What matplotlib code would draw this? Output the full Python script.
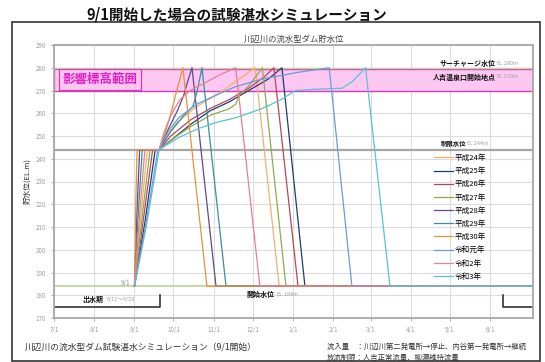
import matplotlib
matplotlib.use("Agg")
import matplotlib.pyplot as plt
from matplotlib.patches import Rectangle
import datetime as dt

JP = ["Noto Sans CJK JP", "DejaVu Sans"]
plt.rcParams["font.family"] = JP

# ---- data: x is days counted from 7/1, y is reservoir level (EL.m) ----
start = dt.date(2023, 7, 1)
month_dates = [dt.date(2023, m, 1) for m in range(7, 13)] + [dt.date(2024, m, 1) for m in range(1, 7)]
month_labels = ["7/1", "8/1", "9/1", "10/1", "11/1", "12/1", "1/1", "2/1", "3/1", "4/1", "5/1", "6/1"]
x_end = 369

series_names = ["平成24年", "平成25年", "平成26年", "平成27年", "平成28年",
                "平成29年", "平成30年", "令和元年", "令和2年", "令和3年"]
series_colors = ["#f5b06a", "#1f3c6e", "#b8465a", "#8faa4c", "#5e4a8a",
                 "#3a8fa0", "#e8923a", "#6a9bd8", "#e8808e", "#5bc0d8"]

h24_days = [62, 67, 72, 81, 87, 95, 110, 125, 140, 155, 173.5, 369]
h24_lv = [184, 216, 244, 244, 250, 256, 263, 268, 274, 280, 184, 184]
h25_days = [62, 70, 78, 81, 92, 105, 120, 135, 150, 165, 175.6, 193.3, 369]
h25_lv = [184, 212, 244, 244, 249, 255, 261, 265, 270, 275, 280, 184, 184]
h26_days = [62, 69, 76, 81, 90, 105, 120, 135, 150, 162, 169.4, 188, 369]
h26_lv = [184, 214, 244, 244, 250, 257, 262, 266, 271, 276, 280, 184, 184]
h27_days = [62, 68, 74, 81, 92, 105, 120, 135, 140, 143, 150, 160.5, 178.7, 369]
h27_lv = [184, 215, 244, 244, 249, 254, 259, 262, 264, 268, 272, 280, 184, 184]
h28_days = [62, 64, 66, 81, 88, 95, 100, 103, 106.3, 124.8, 369]
h28_lv = [184, 218, 244, 244, 253, 261, 268, 274, 280, 184, 184]
h29_days = [62, 65, 68, 81, 90, 100, 107, 110, 114, 132.5, 369]
h29_lv = [184, 217, 244, 244, 252, 259, 263, 269, 280, 184, 184]
h30_days = [62, 63, 64, 81, 86, 91, 95, 99.3, 117.8, 369]
h30_lv = [184, 220, 244, 244, 252, 262, 271, 280, 184, 184]
r1_days = [62, 71, 80, 81, 88, 96, 110, 125, 139, 160, 188, 212, 229.5, 369]
r1_lv = [184, 212, 244, 244, 252, 258, 264, 268, 271.5, 275, 278, 280, 184, 184]
r2_days = [62, 66, 70, 81, 85, 90, 97, 105, 115, 128, 140, 158.6, 369]
r2_lv = [184, 216, 244, 244, 252, 259, 266, 270, 273, 277, 280, 184, 184]
r3_days = [62, 71, 81, 95, 110, 125, 140, 160, 175, 186, 200, 222, 230, 240, 258.8, 369]
r3_lv = [184, 210, 244, 249, 253, 256, 258, 262, 266, 270, 270.5, 271, 274, 280, 184, 184]

series_days = [h24_days, h25_days, h26_days, h27_days, h28_days,
               h29_days, h30_days, r1_days, r2_days, r3_days]
series_lv = [h24_lv, h25_lv, h26_lv, h27_lv, h28_lv,
             h29_lv, h30_lv, r1_lv, r2_lv, r3_lv]

surcharge_lv = 280
impact_low, impact_high = 270, 279.6
limit_lv = 244
start_lv = 184
flood_lv = 175
flood_mark_lv = 180
flood_end = (dt.date(2023, 9, 20) - start).days + 1
flood_begin = (dt.date(2024, 6, 11) - start).days

# ---- figure ----
W, H = 545, 362
fig = plt.figure(figsize=(W / 100, H / 100), dpi=100)
fig.patch.set_facecolor("white")

# outer frame
fig.add_artist(Rectangle((12 / W, 1 - 361 / H), (540 - 12) / W, (361 - 22) / H,
                         transform=fig.transFigure, fill=False, ec="#333333", lw=1.2))

fig.text(237 / W, 1 - 15 / H, "9/1開始した場合の試験湛水シミュレーション",
         ha="center", va="center", fontsize=10.5, fontweight="bold", color="#111111")

ax = fig.add_axes([54 / W, 1 - 318 / H, (533 - 54) / W, (318 - 45) / H])
ax.set_xlim(0, x_end)
ax.set_ylim(170, 290)

ticks = [(d - start).days for d in month_dates]
ax.set_xticks(ticks)
ax.set_xticklabels(month_labels)
ax.set_yticks(range(170, 291, 10))
ax.tick_params(labelsize=4.5, colors="#a0a0a0", length=2, width=0.6, pad=4)
ax.grid(True, color="#dcdcdc", lw=0.8)
ax.set_axisbelow(True)
for sp in ax.spines.values():
    sp.set_color("#a8a8a8")
    sp.set_linewidth(1.3)

ax.set_title("川辺川の流水型ダム貯水位", fontsize=6, color="#404040", pad=2)
ax.set_ylabel("貯水位(EL.m)", fontsize=5.5, color="#333333", labelpad=3)

# impact band, reference levels
ax.axhspan(impact_low, impact_high, facecolor="#fcc8f2", edgecolor="#d63cb8", lw=1.0, zorder=1)
ax.axhline(surcharge_lv, color="#c3d69b", lw=1.0, zorder=1.5)
ax.axhline(limit_lv, color="#a6a6a6", lw=1.6, zorder=1.5)
ax.axhline(start_lv, color="#c4d79b", lw=1.3, zorder=1.5)

# flood season brackets
ax.plot([0, flood_end, flood_end], [flood_lv, flood_lv, flood_mark_lv], color="#222222", lw=1.1, zorder=2)
ax.plot([flood_begin, flood_begin, x_end], [flood_mark_lv, flood_lv, flood_lv], color="#222222", lw=1.1,
        zorder=2, clip_on=False)

# simulated reservoir levels
for name, col, d, lv in zip(series_names, series_colors, series_days, series_lv):
    ax.plot(d, lv, color=col, lw=0.9, label=name, zorder=3)

ax.legend(loc="upper left", bbox_to_anchor=(434 / W, 1 - 154 / H), bbox_transform=fig.transFigure,
          frameon=False, fontsize=5.5, handlelength=2.5, handletextpad=0.25, labelspacing=0.68,
          borderpad=0, borderaxespad=0)

# annotations
def label_pair(x, y, bold_text, gray_text, gx, size=5):
    ax.text(x, y, bold_text, fontsize=size, fontweight="bold", color="#111111", va="center", ha="left", zorder=5)
    ax.text(gx, y, gray_text, fontsize=4, color="#a0a0a0", va="center", ha="left", zorder=5)

label_pair(297, 281.8, "サーチャージ水位", "EL.280m", 341)
label_pair(291.5, 276, "人吉温泉口開始地点", "EL.270m", 341)
label_pair(298, 246.5, "制限水位", "EL.244m", 318, size=4.6)
label_pair(148.5, 180.5, "開始水位", "EL.184m", 171.5)
label_pair(22, 178, "出水期", "6/11～9/20", 40.5)
ax.text(55, 185.5, "9/1", fontsize=4.5, color="#909090", ha="center", va="center")

ax.text(35.5, 274.8, "影響標高範囲", fontsize=9, fontweight="bold", color="#e81ac8", ha="center", va="center",
        zorder=6, bbox=dict(boxstyle="square,pad=0.3", fc="#fcc8f2", ec="#d63cb8", lw=0.9))

# footer notes
fig.text(25 / W, 1 - 348 / H, "川辺川の流水型ダム試験湛水シミュレーション（9/1開始）",
         fontsize=6.3, color="#333333", ha="left", va="center")
fig.text(327 / W, 1 - 347 / H, "流入量　：川辺川第二発電所→停止、内谷第一発電所→継続",
         fontsize=5.3, color="#333333", ha="left", va="center")
fig.text(327 / W, 1 - 358 / H, "放流制限：人吉正常流量、柳瀬維持流量",
         fontsize=5.3, color="#333333", ha="left", va="center")

fig.savefig("out.png", dpi=100)
